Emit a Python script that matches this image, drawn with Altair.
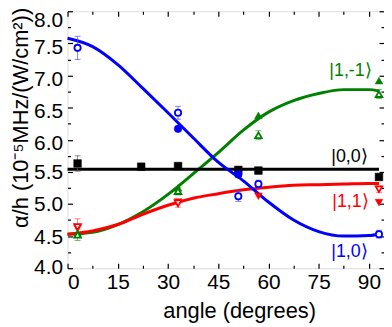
import altair as alt
import pandas as pd

FONT = "Liberation Sans"

# ---- data ----
curve_x = [0, 7.5, 15, 22.5, 30, 37.5, 45, 52.5, 60, 67.5, 75, 82.5, 90, 93]
blue_curve = [7.58, 7.45, 7.17, 6.80, 6.42, 6.03, 5.65, 5.36, 5.03, 4.75, 4.57, 4.50, 4.51, 4.53]
green_curve = [4.53, 4.56, 4.68, 4.88, 5.15, 5.47, 5.80, 6.15, 6.43, 6.61, 6.72, 6.78, 6.78, 6.76]
red_curve = [4.53, 4.58, 4.68, 4.84, 4.98, 5.09, 5.16, 5.22, 5.26, 5.29, 5.30, 5.31, 5.32, 5.32]
black_x = [0, 93]
black_curve = [5.54, 5.54]

sq_x = [3, 22, 33, 51, 57, 93]
sq_y = [5.63, 5.58, 5.59, 5.53, 5.52, 5.42]
sq_e = [0.12, 0.05, 0.03, 0.05, 0.05, 0.04]

bo_x = [3, 33, 51, 57, 93]
bo_y = [7.43, 6.42, 5.12, 5.31, 4.53]
bo_e = [0.18, 0.10, 0.08, 0.06, 0.06]
bf_x = [33, 51]
bf_y = [6.17, 5.46]

gf_x = [3, 33, 57, 93]
gf_y = [4.55, 5.25, 6.38, 6.92]
go_x = [3, 33, 57, 93]
go_y = [4.52, 5.20, 6.07, 6.71]
go_e = [0.09, 0.06, 0.07, 0.07]

rf_x = [3, 33, 57, 93]
rf_y = [4.62, 5.03, 5.12, 5.02]
ro_x = [3, 33, 93]
ro_y = [4.64, 5.01, 5.23]
ro_e = [0.13, 0.06, 0.05]

label_text = ["|1,-1⟩", "|0,0⟩", "|1,1⟩", "|1,0⟩"]
label_x = [84.5, 84.2, 84.5, 84.2]
label_y = [7.07, 5.73, 5.03, 4.25]
label_color = ["#008000", "black", "#ff0000", "#0000ff"]

x_ticks = [0, 15, 30, 45, 60, 75, 90]
x_minor = [7.5, 22.5, 37.5, 52.5, 67.5, 82.5]
y_ticks = [4.0, 4.5, 5.0, 5.5, 6.0, 6.5, 7.0, 7.5, 8.0]
y_minor = [4.25, 4.75, 5.25, 5.75, 6.25, 6.75, 7.25, 7.75]

W, H = 319, 259
xs = alt.Scale(domain=[0, 94.5], nice=False, zero=False)
ys = alt.Scale(domain=[4, 8], nice=False, zero=False)

def X(field="x", axis=None):
    return alt.X(f"{field}:Q", scale=xs, axis=axis)

def Y(field="y", axis=None):
    return alt.Y(f"{field}:Q", scale=ys, axis=axis)

layers = []

# curves
for cx, cy, col in [(curve_x, green_curve, "#008000"), (curve_x, red_curve, "#ff0000"),
                    (black_x, black_curve, "black"), (curve_x, blue_curve, "#0000ff")]:
    df = pd.DataFrame({"x": cx, "y": cy})
    layers.append(alt.Chart(df).mark_line(color=col, strokeWidth=3, interpolate="monotone")
                  .encode(x=X(), y=Y()))

# error bars
def errbars(xv, yv, ev, col):
    df = pd.DataFrame({"x": xv, "lo": [a - b for a, b in zip(yv, ev)],
                       "hi": [a + b for a, b in zip(yv, ev)]})
    rule = alt.Chart(df).mark_rule(color=col, strokeWidth=1, opacity=0.7).encode(
        x=X(), y=Y("lo"), y2="hi:Q")
    cap1 = alt.Chart(df).mark_tick(color=col, orient="horizontal", size=6, thickness=1, opacity=0.7).encode(
        x=X(), y=Y("lo"))
    cap2 = alt.Chart(df).mark_tick(color=col, orient="horizontal", size=6, thickness=1, opacity=0.7).encode(
        x=X(), y=Y("hi"))
    return [rule, cap1, cap2]

layers += errbars(sq_x, sq_y, sq_e, "#555555")
layers += errbars(bo_x, bo_y, bo_e, "#4d4dff")
layers += errbars(go_x, go_y, go_e, "#339933")
layers += errbars(ro_x, ro_y, ro_e, "#ff4d4d")

def pts(xv, yv, shape, col, filled, size):
    df = pd.DataFrame({"x": xv, "y": yv})
    if filled:
        m = alt.Chart(df).mark_point(shape=shape, filled=True, fill=col, stroke=col,
                                     strokeWidth=0.5, size=size, opacity=1)
    else:
        m = alt.Chart(df).mark_point(shape=shape, filled=False, fill="white", fillOpacity=1,
                                     stroke=col, strokeWidth=1.8, size=size, opacity=1)
    return m.encode(x=X(), y=Y())

layers.append(pts(sq_x, sq_y, "square", "black", True, 60))
layers.append(pts(rf_x, rf_y, "triangle-down", "#ff0000", True, 60))
layers.append(pts(ro_x, ro_y, "triangle-down", "#ff0000", False, 45))
layers.append(pts(gf_x, gf_y, "triangle-up", "#008000", True, 60))
layers.append(pts(go_x, go_y, "triangle-up", "#008000", False, 45))
layers.append(pts(bf_x, bf_y, "circle", "#0000ff", True, 60))
layers.append(pts(bo_x, bo_y, "circle", "#0000ff", False, 40))

# labels
ldf = pd.DataFrame({"x": label_x, "y": label_y, "t": label_text, "c": label_color})
layers.append(alt.Chart(ldf).mark_text(font=FONT, fontSize=18, align="center", baseline="middle")
              .encode(x=X(), y=Y(), text="t:N", color=alt.Color("c:N", scale=None)))

# axes
base = alt.Chart(pd.DataFrame({"x": sq_x, "y": sq_y})).mark_point(opacity=0)

ax_x_lab = alt.Axis(orient="bottom", values=x_ticks, format="d", labelFont=FONT, labelFontSize=21,
                    labelColor="black", ticks=False, domain=False, grid=False, labelPadding=3,
                    title="angle (degrees)", titleFont=FONT, titleFontSize=22, titleFontWeight="normal",
                    titleColor="black", titleX=173, titleY=50, titleAlign="center",
                    titleBaseline="alphabetic")
ax_y_lab = alt.Axis(orient="left", values=y_ticks, format=".1f", labelFont=FONT, labelFontSize=21,
                    labelColor="black", ticks=False, domain=False, grid=False, labelPadding=5,
                    labelOffset={"condition": [{"test": "datum.value > 7.9", "value": 9},
                                               {"test": "datum.value > 5.9", "value": 4},
                                               {"test": "datum.value < 4.1", "value": -1}],
                                 "value": 1},
                    title="α/h (10⁻⁵MHz/(W/cm²))", titleFont=FONT, titleFontSize=22,
                    titleFontWeight="normal", titleColor="black", titleAngle=270,
                    titleX=-40, titleY=107, titleAlign="center", titleBaseline="alphabetic")
layers.append(base.encode(x=X(axis=ax_x_lab), y=Y(axis=ax_y_lab)))

def tick_axis(orient, values, size, offset):
    return alt.Axis(orient=orient, values=values, labels=False, domain=False, grid=False,
                    ticks=True, tickSize=size, tickWidth=1.2, tickColor="black", offset=offset,
                    title="")

# inward ticks: bottom (top-orient axis pushed down), left (right-orient axis pushed left)
layers.append(base.encode(x=X(axis=tick_axis("top", x_ticks, 5, -H)),
                          y=Y(axis=tick_axis("right", y_ticks, 5, -W))))
layers.append(base.encode(x=X(axis=tick_axis("top", x_minor, 3, -H)),
                          y=Y(axis=tick_axis("right", y_minor, 3, -W))))
# inward ticks: top (bottom-orient axis pushed up), right (left-orient axis pushed right)
layers.append(base.encode(x=X(axis=tick_axis("bottom", x_ticks, 5, -H)),
                          y=Y(axis=tick_axis("left", y_ticks, 5, -W))))
layers.append(base.encode(x=X(axis=tick_axis("bottom", x_minor, 3, -H)),
                          y=Y(axis=tick_axis("left", y_minor, 3, -W))))

chart = (alt.layer(*layers)
         .resolve_axis(x="independent", y="independent")
         .properties(width=W, height=H,
                     autosize=alt.AutoSizeParams(type="none"),
                     padding={"left": 60, "top": 2, "right": 0, "bottom": 60})
         .configure_view(stroke="black", strokeWidth=1.5)
         .configure(background="white"))

chart.save("out.html", embed_options={"renderer": "svg", "actions": False})
